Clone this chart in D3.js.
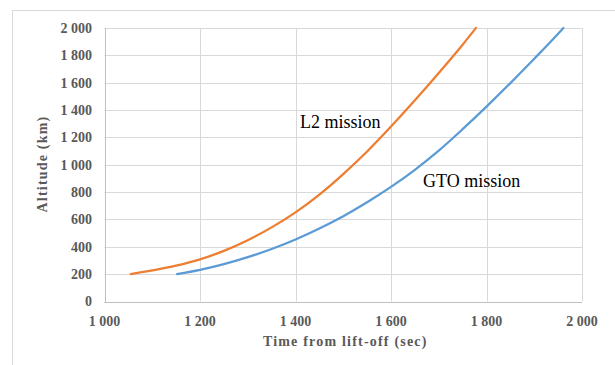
<!DOCTYPE html>
<html>
<head>
<meta charset="utf-8">
<script src="https://cdn.jsdelivr.net/npm/d3@7"></script>
<style>
html, body { margin: 0; padding: 0; background: #fff; }
svg { display: block; }
</style>
</head>
<body>
<svg id="chart" width="615" height="365"></svg>
<script>
// Data
const l2Time = [1055, 1100, 1150, 1200, 1250, 1300, 1350, 1400, 1450, 1500, 1550, 1600, 1650, 1700, 1750, 1778];
const l2Alt  = [200, 227, 262, 308, 370, 448, 542, 652, 782, 932, 1097, 1279, 1471, 1671, 1878, 2000];
const gtoTime = [1152, 1200, 1250, 1300, 1350, 1400, 1450, 1500, 1550, 1600, 1650, 1700, 1750, 1800, 1850, 1900, 1950, 1961];
const gtoAlt  = [200, 231, 273, 324, 384, 454, 534, 624, 726, 838, 963, 1103, 1260, 1425, 1597, 1775, 1958, 2000];
const xTicks = [1000, 1200, 1400, 1600, 1800, 2000];
const yTicks = [0, 200, 400, 600, 800, 1000, 1200, 1400, 1600, 1800, 2000];
const seriesNames = ["L2 mission", "GTO mission"];
const xTitle = "Time from lift-off (sec)";
const yTitle = "Altitude (km)";

const svg = d3.select("#chart");
const W = 615, H = 365;
const m = { left: 104.5, right: 582, top: 28, bottom: 301.5 };

const fmt = d3.formatLocale({ decimal: ".", thousands: "\u00a0", grouping: [3], currency: ["", ""] }).format(",");

const x = d3.scaleLinear().domain([1000, 2000]).range([m.left, m.right]);
const y = d3.scaleLinear().domain([0, 2000]).range([m.bottom, m.top]);

// outer frame (partially visible)
svg.append("line").attr("x1", 12.5).attr("x2", 12.5).attr("y1", 10).attr("y2", H)
  .attr("stroke", "#d9d9d9").attr("stroke-width", 1);
svg.append("line").attr("x1", 12).attr("x2", W).attr("y1", 10.5).attr("y2", 10.5)
  .attr("stroke", "#d9d9d9").attr("stroke-width", 1);

// gridlines
const grid = svg.append("g");
grid.selectAll("line.h").data(yTicks).join("line")
  .attr("x1", m.left).attr("x2", m.right)
  .attr("y1", d => Math.round(y(d)) + 0.5).attr("y2", d => Math.round(y(d)) + 0.5)
  .attr("stroke", "#d9d9d9").attr("stroke-width", 1);
grid.selectAll("line.v").data(xTicks).join("line")
  .attr("y1", m.top).attr("y2", m.bottom)
  .attr("x1", d => Math.round(x(d)) + 0.5).attr("x2", d => Math.round(x(d)) + 0.5)
  .attr("stroke", "#d9d9d9").attr("stroke-width", 1);

// axes lines
svg.append("line").attr("x1", Math.round(m.left) + 0.5).attr("x2", Math.round(m.left) + 0.5)
  .attr("y1", m.top).attr("y2", Math.round(m.bottom) + 0.5).attr("stroke", "#bfbfbf");
svg.append("line").attr("x1", m.left).attr("x2", m.right)
  .attr("y1", Math.round(m.bottom) + 0.5).attr("y2", Math.round(m.bottom) + 0.5).attr("stroke", "#bfbfbf");

const tickFont = "'Liberation Serif', 'Times New Roman', serif";

// y tick labels
svg.append("g").selectAll("text").data(yTicks).join("text")
  .attr("x", 92).attr("y", d => y(d))
  .attr("dy", "0.35em")
  .attr("text-anchor", "end")
  .attr("font-family", tickFont).attr("font-weight", "bold").attr("font-size", 14)
  .attr("fill", "#595959")
  .text(d => fmt(d));

// x tick labels
svg.append("g").selectAll("text").data(xTicks).join("text")
  .attr("x", d => x(d)).attr("y", 326)
  .attr("text-anchor", "middle")
  .attr("font-family", tickFont).attr("font-weight", "bold").attr("font-size", 14)
  .attr("fill", "#595959")
  .text(d => fmt(d));

// axis titles
svg.append("text")
  .attr("x", (m.left + m.right) / 2 + 2).attr("y", 346)
  .attr("text-anchor", "middle")
  .attr("font-family", tickFont).attr("font-weight", "bold").attr("font-size", 14)
  .attr("letter-spacing", 1.2)
  .attr("fill", "#595959")
  .text(xTitle);
svg.append("text")
  .attr("transform", "translate(47,164) rotate(-90)")
  .attr("text-anchor", "middle")
  .attr("font-family", tickFont).attr("font-weight", "bold").attr("font-size", 14)
  .attr("letter-spacing", 1.2)
  .attr("fill", "#595959")
  .text(yTitle);

// lines
const line = d3.line().x(d => x(d[0])).y(d => y(d[1])).curve(d3.curveMonotoneX);
const l2Data = l2Time.map((t, i) => [t, l2Alt[i]]);
const gtoData = gtoTime.map((t, i) => [t, gtoAlt[i]]);

svg.append("path").datum(gtoData).attr("d", line)
  .attr("fill", "none").attr("stroke", "#5B9BD5").attr("stroke-width", 2.25).attr("stroke-linecap", "round");
svg.append("path").datum(l2Data).attr("d", line)
  .attr("fill", "none").attr("stroke", "#ED7D31").attr("stroke-width", 2.25).attr("stroke-linecap", "round");

// series labels
svg.append("text").attr("x", 300).attr("y", 128)
  .attr("font-family", tickFont).attr("font-size", 18).attr("fill", "#000")
  .text(seriesNames[0]);
svg.append("text").attr("x", 423).attr("y", 187)
  .attr("font-family", tickFont).attr("font-size", 18).attr("fill", "#000")
  .text(seriesNames[1]);
</script>
</body>
</html>
